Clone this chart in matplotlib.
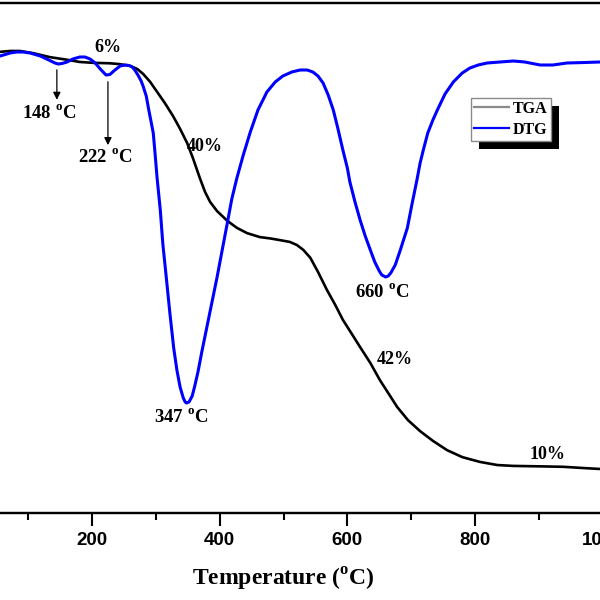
import matplotlib
matplotlib.use("Agg")
import matplotlib.pyplot as plt
from matplotlib.lines import Line2D
from matplotlib.patches import Rectangle
from matplotlib.ticker import MultipleLocator

# --- data ---
tga_temp = [30, 56, 72, 87, 108, 134, 161, 181, 202, 228, 244, 260, 271, 280,
            291, 302, 314, 327, 338, 349, 358, 369, 377, 385, 396, 412, 427,
            443, 463, 479, 495, 510, 521, 531, 542, 554, 568, 581, 593, 607,
            620, 636, 651, 667, 678, 695, 714, 734, 756, 780, 808, 835, 860,
            902, 938, 972, 996, 1010]
tga_weight = [99.9, 99.8, 100.0, 100.0, 99.5, 98.6, 98.0, 97.5, 97.3, 97.2,
              97.0, 96.6, 95.9, 94.8, 93.0, 90.7, 88.2, 85.2, 82.3, 79.1,
              75.7, 71.1, 68.0, 65.7, 63.6, 61.4, 59.8, 58.6, 57.7, 57.4,
              57.0, 56.6, 55.9, 54.8, 53.0, 49.8, 45.7, 42.3, 38.9, 35.7,
              32.7, 29.1, 25.2, 21.6, 19.1, 16.1, 13.6, 11.4, 9.3, 7.7, 6.6,
              5.9, 5.7, 5.6, 5.5, 5.2, 5.0, 4.9]

dtg_temp = [40, 56, 64, 72, 82, 92, 103, 119, 134, 142,
            147, 153, 161, 170, 181, 189, 197, 205, 213, 219,
            222, 228, 236, 244, 252, 258, 263, 267, 272, 277,
            280, 285, 289, 296, 299, 302, 307, 311, 316, 322,
            328, 333, 338, 343, 346, 348, 352, 357, 361, 366,
            372, 380, 388, 396, 404, 412, 419, 427, 437, 448,
            460, 474, 487, 499, 513, 526, 537, 546, 554, 562,
            570, 578, 585, 593, 600, 604, 612, 620, 628, 636,
            643, 650, 654, 660, 664, 668, 675, 683, 689, 694,
            701, 709, 714, 719, 726, 734, 741, 753, 766, 780,
            792, 805, 819, 839, 860, 878, 902, 922, 944, 972,
            996, 1010]
dtg_value = [0.000, 0.016, 0.022, 0.028, 0.032, 0.032, 0.028, 0.016, -0.002, -0.012,
             -0.016, -0.014, -0.008, 0.004, 0.012, 0.012, 0.004, -0.012, -0.036, -0.052,
             -0.060, -0.058, -0.040, -0.024, -0.020, -0.022, -0.028, -0.040, -0.060, -0.084,
             -0.104, -0.144, -0.200, -0.292, -0.380, -0.472, -0.600, -0.736, -0.860, -1.012,
             -1.152, -1.240, -1.308, -1.352, -1.368, -1.372, -1.368, -1.344, -1.304, -1.248,
             -1.168, -1.068, -0.968, -0.868, -0.760, -0.652, -0.556, -0.472, -0.380, -0.288,
             -0.200, -0.128, -0.088, -0.064, -0.048, -0.040, -0.040, -0.048, -0.064, -0.092,
             -0.140, -0.200, -0.272, -0.360, -0.432, -0.488, -0.568, -0.640, -0.704, -0.760,
             -0.808, -0.844, -0.860, -0.868, -0.864, -0.852, -0.820, -0.760, -0.712, -0.672,
             -0.580, -0.480, -0.412, -0.360, -0.292, -0.240, -0.200, -0.136, -0.088, -0.052,
             -0.032, -0.020, -0.012, -0.008, -0.004, -0.008, -0.020, -0.020, -0.012, -0.010,
             -0.008, -0.008]

x_ticks = [200, 400, 600, 800, 1000]

# (text, temperature, weight) for labels placed on the TGA axis
step_labels = [("6%", 225, 100.7), ("40%", 377, 78.2),
               ("42%", 675, 29.8), ("10%", 913, 8.2)]
peak_labels = [("148", 133, 85.9), ("222", 220, 75.9),
               ("347", 339, 16.8), ("660", 654, 45.2)]
# arrows: (temperature, weight start, weight end)
peak_arrows = [(145, 95.7, 88.9), (225, 93.0, 78.6)]

SERIF = "Liberation Serif"
plt.rcParams["mathtext.fontset"] = "custom"
plt.rcParams["mathtext.rm"] = SERIF
plt.rcParams["mathtext.bf"] = SERIF + ":bold"

fig = plt.figure(figsize=(6, 6), dpi=100)
ax = fig.add_axes([-0.0595, 0.145, 1.064, 0.85])
ax2 = ax.twinx()

ax.plot(tga_temp, tga_weight, color="black", lw=1.9, zorder=3,
        solid_joinstyle="round")
ax2.plot(dtg_temp, dtg_value, color="#0000ff", lw=2.2, zorder=3,
         solid_joinstyle="round")

ax.set_xlim(0, 1000)
ax.set_ylim(-5.0, 110.9)
ax2.set_ylim(-1.812, 0.228)

ax.set_xticks(x_ticks)
ax.xaxis.set_minor_locator(MultipleLocator(100))
ax.tick_params(axis="x", which="major", direction="out", length=9, width=1.5,
               labelsize=13.5, pad=5)
ax.tick_params(axis="x", which="minor", direction="out", length=5, width=1.5)
ax.tick_params(axis="y", left=False, labelleft=False)
ax2.tick_params(axis="y", right=False, labelright=False)
for lbl in ax.get_xticklabels():
    lbl.set_fontfamily("Liberation Sans")
    lbl.set_fontweight("bold")
for a in (ax, ax2):
    for sp in a.spines.values():
        sp.set_linewidth(1.6)

ax.set_xlabel("Temperature ($^{\\mathbf{o}}$C)", fontsize=17,
              fontfamily=SERIF, fontweight="bold", labelpad=12)

txt_kw = dict(fontfamily=SERIF, fontweight="bold",
              ha="center", va="center", zorder=6)
for s, t, w in step_labels:
    ax.text(t, w, s, fontsize=13, **txt_kw)
for s, t, w in peak_labels:
    ax.text(t, w, s + " $^{\\mathbf{o}}$C", fontsize=13.5, **txt_kw)
for t, w0, w1 in peak_arrows:
    ax.annotate("", xy=(t, w1), xytext=(t, w0),
                arrowprops=dict(arrowstyle="-|>", color="black", lw=0.9,
                                mutation_scale=11, shrinkA=0, shrinkB=0),
                zorder=6)

handles = [Line2D([], [], color="#8a8a8a", lw=1.6),
           Line2D([], [], color="#0000ff", lw=1.6)]
leg = ax2.legend(handles, ["TGA", "DTG"], loc="upper left",
                 bbox_to_anchor=(471 / 600, 1 - 98 / 600),
                 bbox_transform=fig.transFigure, borderaxespad=0,
                 prop={"family": SERIF, "weight": "bold", "size": 11.5},
                 handlelength=2.2, handletextpad=0.25, borderpad=0.18,
                 labelspacing=0.3, fancybox=False, framealpha=1,
                 edgecolor="#8a8a8a")
leg.get_frame().set_linewidth(1.0)
leg.set_zorder(10)

fig.canvas.draw()
bb = leg.get_window_extent()
shadow = Rectangle((bb.x0 + 8, bb.y0 - 8), bb.width, bb.height,
                   transform=None, facecolor="black", edgecolor="none",
                   zorder=9)
ax2.add_artist(shadow)

fig.savefig("out.png", dpi=100)
